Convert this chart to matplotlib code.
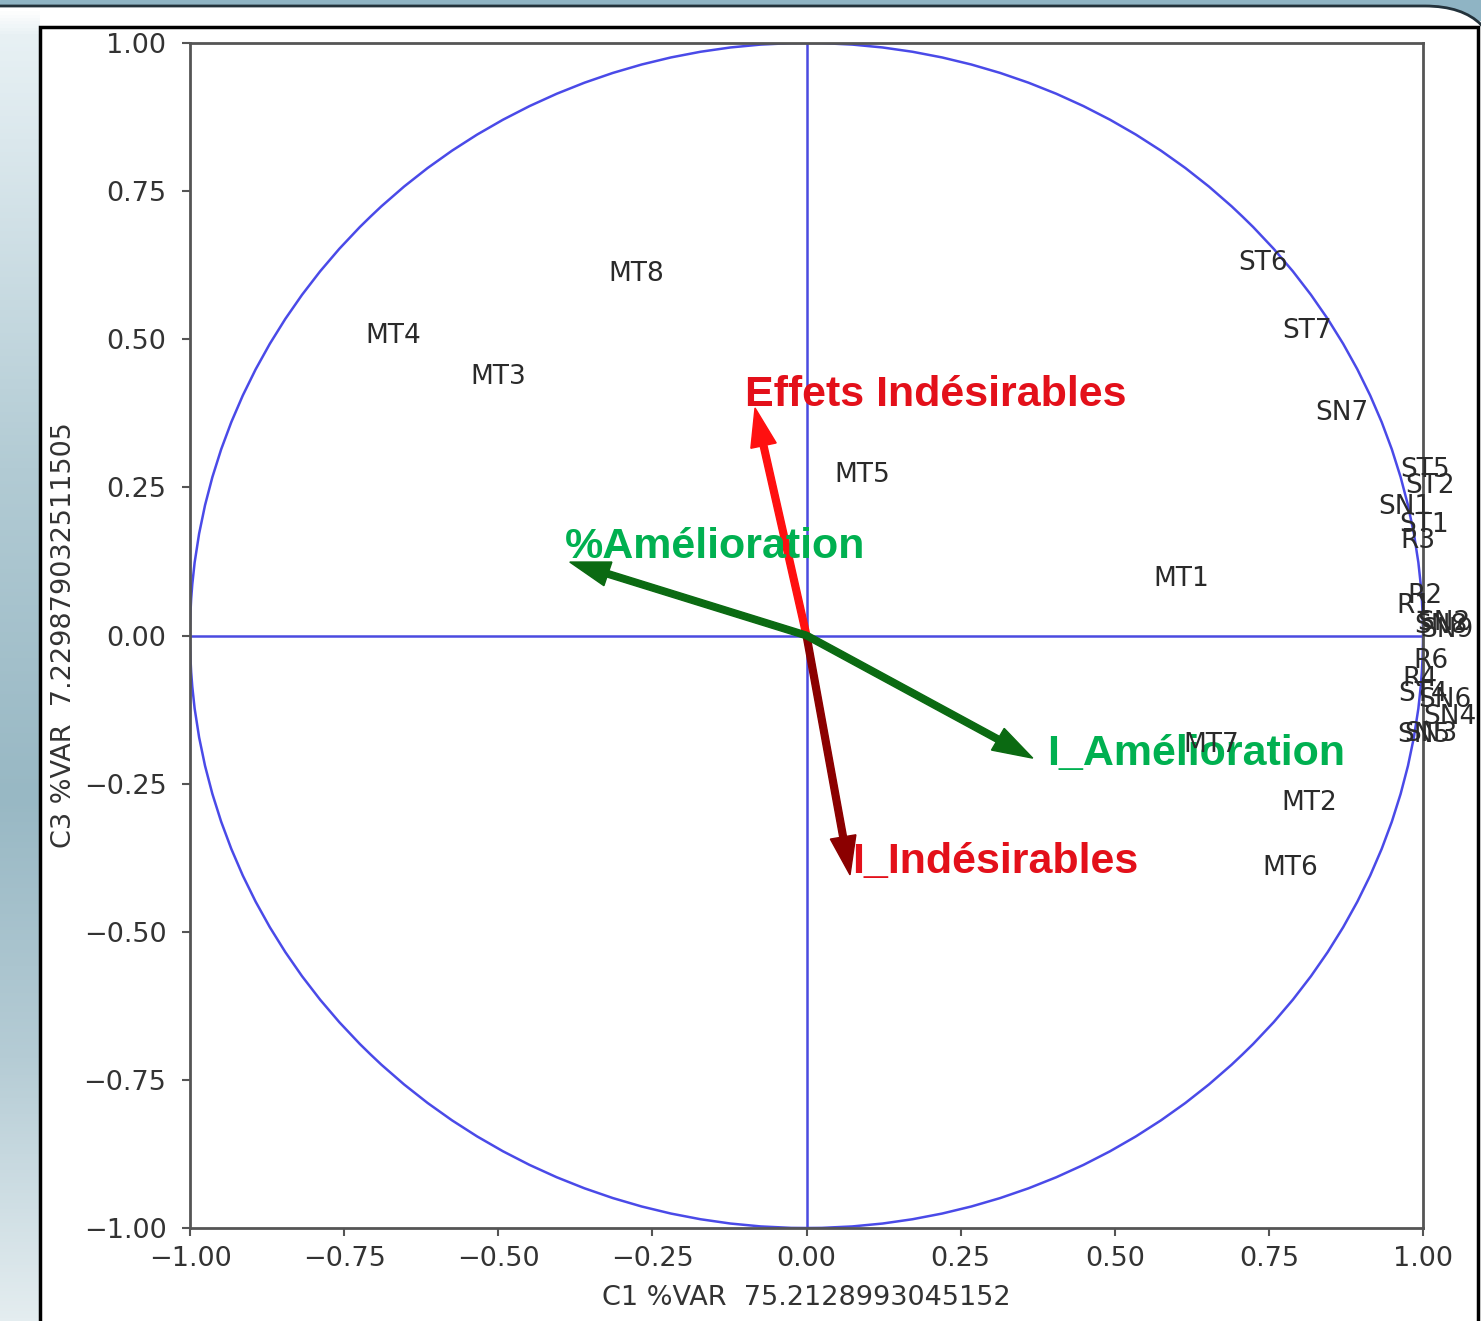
import numpy as np
import matplotlib
matplotlib.use("Agg")
import matplotlib.pyplot as plt
from matplotlib.patches import Rectangle, FancyBboxPatch, Circle

# points du cercle des corrélations (C1, C3)
noms = ["MT1", "MT2", "MT3", "MT4", "MT5", "MT6", "MT7", "MT8",
        "ST6", "ST7", "SN7",
        "ST5", "ST2", "SN1", "ST1", "R3",
        "R1", "R2", "SN2", "SN8", "SN9",
        "R6", "R4", "ST4", "SN6", "SN4", "SN5", "SN3"]
c1 = [0.562, 0.771, -0.546, -0.716, 0.046, 0.739, 0.611, -0.322,
      0.700, 0.771, 0.825,
      0.963, 0.971, 0.928, 0.962, 0.963,
      0.957, 0.975, 0.990, 0.985, 0.995,
      0.984, 0.967, 0.960, 0.993, 1.000, 0.958, 0.970]
c3 = [0.084, -0.295, 0.424, 0.494, 0.259, -0.404, -0.197, 0.599,
      0.617, 0.502, 0.364,
      0.268, 0.240, 0.205, 0.175, 0.148,
      0.038, 0.055, 0.010, 0.005, -0.002,
      -0.055, -0.085, -0.110, -0.120, -0.150, -0.180, -0.178]

# variables illustratives (flèches)
var_noms = ["Effets Indésirables", "I_Indésirables", "%Amélioration", "I_Amélioration"]
var_c1 = [-0.0835, 0.0706, -0.384, 0.367]
var_c3 = [0.384, -0.404, 0.124, -0.207]
var_fleche = ["#ff1010", "#8b0000", "#0b6a12", "#0b6a12"]
var_texte = ["#e3101a", "#e3101a", "#00b050", "#00b050"]
# position du texte (coin bas-gauche)
lab_c1 = [-0.100, 0.074, -0.392, 0.390]
lab_c3 = [0.388, -0.400, 0.131, -0.219]

var_c1_pct = "75.2128993045152"
var_c3_pct = "7.229879032511505"

fig = plt.figure(figsize=(14.81, 13.21), dpi=100)

# fond type diapositive
bg = fig.add_axes([0, 0, 1, 1], zorder=-5)
bg.set_xlim(0, 1481)
bg.set_ylim(1321, 0)
bg.axis("off")
bg.add_patch(Rectangle((0, 0), 1481, 20, color="#8fb4c4", zorder=0))
bg.add_patch(FancyBboxPatch((-200, 6), 1700, 1500,
                            boxstyle="round,pad=0,rounding_size=75",
                            facecolor="white", edgecolor="#23323b", lw=2, zorder=1))
stops_y = [0.0, 0.02, 0.1, 0.35, 0.6, 0.8, 1.0]
stops_c = ["#ffffff", "#e8f1f4", "#dbe8ed", "#b2cbd4", "#98b8c4", "#b5ccd5", "#e4edf0"]
yy = np.linspace(0, 1, 400)
rgb = np.array([matplotlib.colors.to_rgb(c) for c in stops_c])
grad = np.stack([np.interp(yy, stops_y, rgb[:, k]) for k in range(3)], axis=1)
bg.imshow(grad[:, None, :], extent=[0, 40, 1321, 8], aspect="auto", zorder=2)
bg.add_patch(Rectangle((40, 27), 1438, 1400, facecolor="white",
                       edgecolor="black", lw=2.5, zorder=3))

ax = fig.add_axes([190 / 1481, 93 / 1321, 1233 / 1481, 1185 / 1321])
ax.set_xlim(-1, 1)
ax.set_ylim(-1, 1)

for i, nom in enumerate(noms):
    ax.annotate(nom, (c1[i], c3[i]), fontsize=19, color="#2a2a2a", zorder=6)

cercle = Circle((0, 0), 1, fill=False, color="#4a4ae8", lw=1.8)
ax.add_artist(cercle)
ax.plot([-1, 1], [0, 0], color="#4a4ae0", lw=1.8)
ax.plot([0, 0], [-1, 1], color="#4a4ae0", lw=1.8)

for j in range(len(var_noms)):
    ax.arrow(0, 0, var_c1[j], var_c3[j], width=0.011, head_width=0.042,
             head_length=0.065, length_includes_head=True,
             color=var_fleche[j], zorder=3)
    ax.text(lab_c1[j], lab_c3[j], var_noms[j], fontsize=31, fontweight="bold",
            family="Liberation Sans", color=var_texte[j], zorder=4)

ticks = [-1.0, -0.75, -0.5, -0.25, 0.0, 0.25, 0.5, 0.75, 1.0]
ax.set_xticks(ticks)
ax.set_yticks(ticks)
ax.set_xticklabels([f"{t:.2f}".replace("-", "\u2212") for t in ticks])
ax.set_yticklabels([f"{t:.2f}".replace("-", "\u2212") for t in ticks])
ax.tick_params(labelsize=19.5, labelcolor="#333333", length=6, width=1.5,
               color="#555555")
ax.tick_params(axis="x", pad=7)
ax.tick_params(axis="y", pad=11)
for s in ax.spines.values():
    s.set_color("#555555")
    s.set_linewidth(2)

ax.set_xlabel("C1 %VAR  " + var_c1_pct, fontsize=19.5, color="#333333", labelpad=9)
ax.set_ylabel("C3 %VAR  " + var_c3_pct, fontsize=19.5, color="#333333", labelpad=5)

fig.savefig("out.png", dpi=100)
